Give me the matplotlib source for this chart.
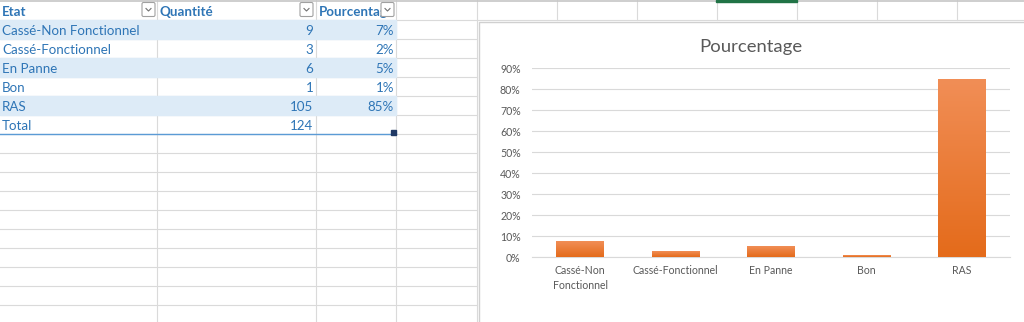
import numpy as np
import matplotlib
matplotlib.use("Agg")
import matplotlib.pyplot as plt
from matplotlib.patches import Rectangle, FancyBboxPatch
from matplotlib.colors import LinearSegmentedColormap

# table data
headers = ["Etat", "Quantité", "Pourcentage"]
etats = ["Cassé-Non Fonctionnel", "Cassé-Fonctionnel", "En Panne", "Bon", "RAS"]
quantites = [9, 3, 6, 1, 105]
pourcent_txt = ["7%", "2%", "5%", "1%", "85%"]
total_label = "Total"
total_qte = 124

# chart data
chart_title = "Pourcentage"
chart_cats = ["Cassé-Non\nFonctionnel", "Cassé-Fonctionnel", "En Panne", "Bon", "RAS"]
chart_vals = [0.0726, 0.0242, 0.0484, 0.0081, 0.8468]
yticks = [0, 0.1, 0.2, 0.3, 0.4, 0.5, 0.6, 0.7, 0.8, 0.9]

W, H = 1024, 322
FONT = "Lato"
BLUE_TXT = "#2E75B6"
BAND = "#DDEBF7"
GRID = "#DADADA"
GREY_TXT = "#595959"

fig = plt.figure(figsize=(W / 100, H / 100), dpi=100)
bg = fig.add_axes([0, 0, 1, 1])
bg.set_xlim(0, W)
bg.set_ylim(H, 0)
bg.axis("off")

# spreadsheet grid
col_x = [157, 316, 396, 476.5]
row_y = [20 + 19 * i for i in range(16)]
for x in col_x:
    bg.plot([x, x], [0, H], color=GRID, lw=0.8, zorder=1)
for x in [556.5, 636.5, 716.5, 796.5, 876.5, 956.5]:
    bg.plot([x, x], [0, 20], color=GRID, lw=0.8, zorder=1)
for y in row_y:
    bg.plot([0, 476.5], [y, y], color=GRID, lw=0.8, zorder=1)
bg.plot([476.5, W], [20, 20], color=GRID, lw=0.8, zorder=1)
bg.plot([0, W], [0.5, 0.5], color="#C6C6C6", lw=1.2, zorder=1)
bg.add_patch(Rectangle((716, 0), 81, 2.2, color="#217346", zorder=3))

# table
for i in range(0, 5, 2):
    bg.add_patch(Rectangle((0, 20 + 19 * i), 396, 19, color=BAND, zorder=2))
bg.plot([0, 396], [134, 134], color="#5B9BD5", lw=1.0, zorder=3)
bg.add_patch(Rectangle((391, 130), 5, 5, color="#1F3864", zorder=4))

fs = 9.6
base = 16.2
bg.text(2, base, headers[0], color=BLUE_TXT, fontsize=fs, family=FONT,
        fontweight="bold", va="baseline", zorder=3)
bg.text(160, base, headers[1], color=BLUE_TXT, fontsize=fs, family=FONT,
        fontweight="bold", va="baseline", zorder=3)
t = bg.text(319, base, headers[2], color=BLUE_TXT, fontsize=fs, family=FONT,
            fontweight="bold", va="baseline", zorder=3)
t.set_clip_path(Rectangle((316, 0), 80, 20, transform=bg.transData))

for bx in [142, 300, 381]:
    bg.add_patch(FancyBboxPatch((bx, 2.5), 13, 14, boxstyle="round,pad=0,rounding_size=1.5",
                                fc="white", ec="#A0A0A0", lw=0.8, zorder=5))
    bg.plot([bx + 4, bx + 6.5, bx + 9], [8.5, 11, 8.5], color="#707070", lw=0.8, zorder=6)

for i, (e, q, p) in enumerate(zip(etats, quantites, pourcent_txt)):
    y = 20 + 19 * i + base - 1
    bg.text(2, y, e, color=BLUE_TXT, fontsize=fs, family=FONT, va="baseline", zorder=3)
    bg.text(313.5, y, str(q), color=BLUE_TXT, fontsize=fs, family=FONT, va="baseline",
            ha="right", zorder=3)
    bg.text(394, y, p, color=BLUE_TXT, fontsize=fs, family=FONT, va="baseline",
            ha="right", zorder=3)
y = 20 + 19 * 5 + base - 1
bg.text(2, y, total_label, color=BLUE_TXT, fontsize=fs, family=FONT, va="baseline", zorder=3)
bg.text(313.5, y, str(total_qte), color=BLUE_TXT, fontsize=fs, family=FONT,
        va="baseline", ha="right", zorder=3)

# chart box
bg.add_patch(Rectangle((479, 21.5), W - 478, H, fc="white", ec="#D0D0D0", lw=1.0, zorder=7))
bg.text(750.5, 51.5, chart_title, color=GREY_TXT, fontsize=13.3, family=FONT,
        ha="center", va="baseline", zorder=8)

# chart axes
x0, x1 = 532.25, 1009.75
y_top, y_zero = 68.3, 257.2
ax = fig.add_axes([x0 / W, (H - y_zero) / H, (x1 - x0) / W, (y_zero - y_top) / H])
ax.patch.set_alpha(0)
xs = np.arange(len(chart_vals))
bars = ax.bar(xs, chart_vals, width=0.5, color="none", zorder=3)
grad = LinearSegmentedColormap.from_list("og", ["#E46B1B", "#F18E56"])
for b in bars:
    bx, by = b.get_x(), b.get_y()
    ax.imshow(np.linspace(0, 1, 64).reshape(-1, 1), cmap=grad, origin="lower",
              extent=(bx, bx + b.get_width(), by, by + b.get_height()),
              aspect="auto", zorder=3)
ax.set_xlim(-0.5, len(chart_vals) - 0.5)
ax.set_ylim(0, 0.9)
ax.set_yticks(yticks)
ax.set_yticklabels([f"{int(round(v * 100))}%" for v in yticks])
ax.set_xticks(xs)
ax.set_xticklabels(chart_cats, linespacing=1.45)
ax.tick_params(length=0, colors=GREY_TXT, labelsize=7.6)
ax.tick_params(axis="y", pad=8.3)
ax.tick_params(axis="x", pad=5.5)
for lbl in ax.get_xticklabels() + ax.get_yticklabels():
    lbl.set_family(FONT)
ax.grid(axis="y", color="#D9D9D9", lw=0.8, zorder=0)
for s in ["top", "right", "left"]:
    ax.spines[s].set_visible(False)
ax.spines["bottom"].set_color("#D9D9D9")
ax.spines["bottom"].set_linewidth(0.8)

fig.savefig("out.png", dpi=100)
